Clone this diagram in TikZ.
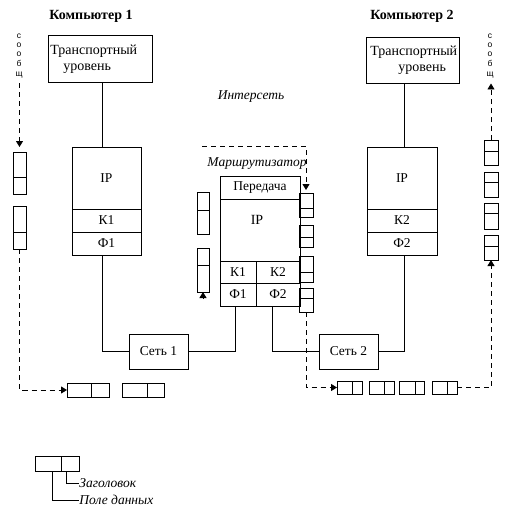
\documentclass[tikz,border=0pt]{standalone}
\usepackage{fontspec}
\setmainfont{Liberation Serif}
\newfontfamily\smallsans{Liberation Sans}
\usetikzlibrary{arrows.meta}
\newcommand\bx[6]{\node[box, minimum width=#4pt-#2pt, minimum height=#5pt-#3pt] (#1) at ({(#2+#4)/2},{(#3+#5)/2}) {#6};}
\newcommand\hp[6]{\node[box, minimum width=#4pt-#2pt, minimum height=#5pt-#3pt] (#1) at ({(#2+#4)/2},{(#3+#5)/2}) {};\draw (#6,#3) -- (#6,#5);}
\newcommand\vp[6]{\node[box, minimum width=#4pt-#2pt, minimum height=#5pt-#3pt] (#1) at ({(#2+#4)/2},{(#3+#5)/2}) {};\draw (#2,#6) -- (#4,#6);}
\begin{document}
\begin{tikzpicture}[x=1pt,y=-1pt, line width=0.9pt,
  box/.style={draw, inner sep=0pt, outer sep=0pt, font=\fontsize{13.5}{15}\selectfont},
  txt/.style={font=\fontsize{14}{15}\selectfont, inner sep=0pt},
  itxt/.style={font=\fontsize{13.5}{15}\selectfont\itshape, inner sep=0pt},
  btxt/.style={font=\fontsize{14}{15}\selectfont\bfseries, inner sep=0pt},
  stxt/.style={font=\smallsans\fontsize{8.5}{9.2}\selectfont, inner sep=0pt, align=center},
  dsh/.style={dash pattern=on 5pt off 4pt},
  tip/.style={-{Triangle[length=6pt,width=7pt]}}
]
\useasboundingbox (0,0) rectangle (518,520);
\fill[white] (0,0) rectangle (518,520);

% titles
\node[btxt] (C1) at (91,16) {Компьютер 1};
\node[btxt] (C2) at (412,16) {Компьютер 2};
\node[itxt] (Inet) at (251,97) {Интерсеть};
\node[itxt] (Rt) at (257,164) {Маршрутизатор};

% host 1
\bx{T1}{48}{35}{152}{82}{}
\node[txt, anchor=base west] (T1a) at (50,54) {Транспортный};
\node[txt, anchor=base west] (T1b) at (63,70) {уровень};
\bx{I1}{72}{147}{141}{209}{IP}
\bx{K1}{72}{209}{141}{232}{К1}
\bx{F1}{72}{232}{141}{255}{Ф1}

% host 2
\bx{T2}{366}{37}{459}{83}{}
\node[txt, anchor=base west] (T2a) at (370,55) {Транспортный};
\node[txt, anchor=base west] (T2b) at (398,71) {уровень};
\bx{I2}{367}{147}{437}{209}{IP}
\bx{K2}{367}{209}{437}{232}{К2}
\bx{F2}{367}{232}{437}{255}{Ф2}

% router
\bx{rP}{220}{176}{300}{199}{Передача}
\bx{rI}{220}{199}{300}{261}{}
\node[txt] (rIt) at (257,220) {IP};
\bx{rK1}{220}{261}{256}{283}{К1}
\bx{rK2}{256}{261}{300}{283}{К2}
\bx{rF1}{220}{283}{256}{306}{Ф1}
\bx{rF2}{256}{283}{300}{306}{Ф2}

% networks
\bx{N1}{129}{334}{188}{369}{Сеть 1}
\bx{N2}{319}{334}{378}{369}{Сеть 2}

% guide coordinates
\coordinate (xa) at (102,0);
\coordinate (xb) at (235,0);
\coordinate (xc) at (272,0);
\coordinate (xd) at (404,0);

% solid connectors
\draw (T1.south -| xa) -- (I1.north -| xa);
\draw (F1.south -| xa) |- (N1.west);
\draw (N1.east) -| (rF1.south -| xb);
\draw (rF2.south -| xc) |- (N2.west);
\draw (N2.east) -| (F2.south -| xd);
\draw (T2.south -| xd) -- (I2.north -| xd);

% message letters
\node[stxt] (S1) at (19,56) {с\\о\\о\\б\\[1pt]щ};
\node[stxt] (S2) at (490,56) {с\\о\\о\\б\\[1pt]щ};

% packets
\vp{L1}{13}{152}{26}{194}{177}
\vp{L2}{13}{206}{26}{249}{232}
\vp{RL1}{197}{192}{209}{234}{210}
\vp{RL2}{197}{248}{209}{292}{265}
\vp{RR1}{299}{193}{313}{217}{208}
\vp{RR2}{299}{225}{313}{247}{237}
\vp{RR3}{299}{256}{313}{282}{272}
\vp{RR4}{299}{288}{313}{312}{298}
\vp{R1}{484}{140}{498}{165}{151}
\vp{R2}{484}{172}{498}{197}{182}
\vp{R3}{484}{203}{498}{229}{213}
\vp{R4}{484}{235}{498}{260}{246}
\hp{P1}{67}{383}{109}{397}{91}
\hp{P2}{122}{383}{164}{397}{147}
\hp{Q1}{337}{381}{362}{394}{352}
\hp{Q2}{369}{381}{394}{394}{384}
\hp{Q3}{399}{381}{424}{394}{415}
\hp{Q4}{432}{381}{457}{394}{447}

% dashed message paths
\coordinate (dTop) at (202,146);
\draw[dsh, tip, shorten <=5pt] (L1.north |- S1.south) -- ([yshift=5pt]L1.north);
\draw[dsh, tip] (L2.south) |- (P1.west);
\draw[dsh, tip] (dTop) -| ([yshift=3pt]RR1.north);
\draw[tip] ([yshift=-7pt]RL2.south) -- (RL2.south);
\draw[dsh, tip] (RR4.south) |- (Q1.west);
\draw[dsh, tip] (Q4.east) -| (R4.south);
\draw[dsh, tip] (R1.north) -- ([yshift=-5pt]R1.north |- S2.south);

% legend
\hp{Lg}{35}{456}{79}{471}{61}
\node[itxt, anchor=west] (Lz) at (79,483) {Заголовок};
\node[itxt, anchor=west] (Lp) at (79,500) {Поле данных};
\coordinate (xe) at (52,0);
\coordinate (xf) at (66,0);
\draw (Lg.south -| xf) |- (Lz.west);
\draw (Lg.south -| xe) |- (Lp.west);
\end{tikzpicture}
\end{document}
